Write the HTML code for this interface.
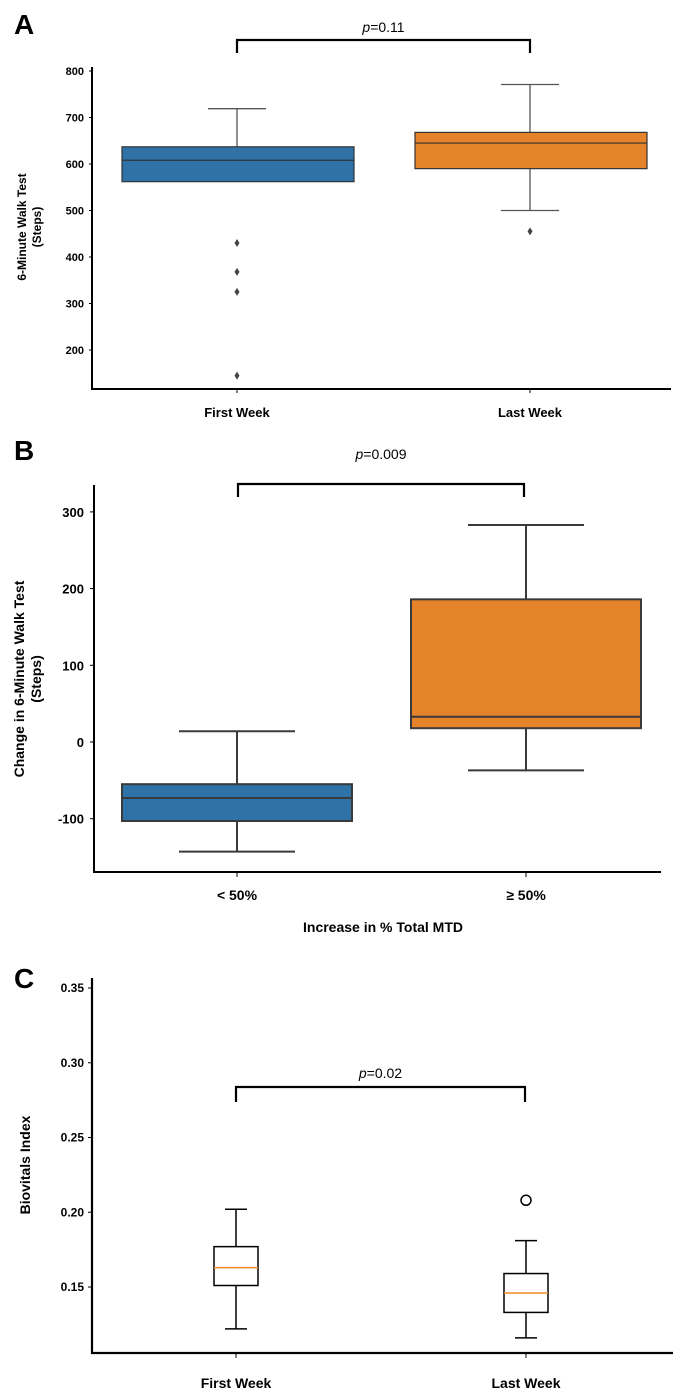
<!DOCTYPE html>
<html><head><meta charset="utf-8"><style>
body{margin:0;background:#fff;width:680px;height:1400px;overflow:hidden}
svg{display:block;font-family:"Liberation Sans",Arial,sans-serif}
</style></head><body>
<svg id="s" width="680" height="1400"></svg>
<script>
const catsA=["First Week","Last Week"];
const boxA=[[null,562,608,637,719],[500,590,645,668,771]];
const outA=[[430,368,325,145],[455]];
const ticksA=[200,300,400,500,600,700,800];
const catsB=["< 50%","≥ 50%"];
const boxB=[[-143,-103,-73,-55,14],[-37,18,33,186,283]];
const ticksB=[-100,0,100,200,300];
const catsC=["First Week","Last Week"];
const boxC=[[0.122,0.151,0.163,0.177,0.202],[0.116,0.133,0.146,0.159,0.181]];
const outC=[[],[0.208]];
const ticksC=[0.15,0.20,0.25,0.30,0.35];

const S=document.getElementById('s');const NS="http://www.w3.org/2000/svg";
function el(t,a,name,txt){const e=document.createElementNS(NS,t);for(const k in a)e.setAttribute(k,a[k]);


if(txt!==undefined)e.textContent=txt;S.appendChild(e);return e;}
function txt(x,y,s,name,o){o=o||{};const a={x:x,y:y,'font-size':o.fs||12,'font-weight':o.fw||'bold','text-anchor':o.anchor||'middle',fill:'#000'};if(o.tr)a.transform=o.tr;if(o.fst)a['font-style']=o.fst;return el('text',a,name,s);}
function bracket(x1,x2,y,y2,lab,ly,name){el('path',{d:`M${x1} ${y2}V${y}H${x2}V${y2}`,fill:'none',stroke:'#000','stroke-width':2.2},name+'-bracket');
const t=txt((x1+x2)/2,ly,'',name+'-label',{fw:'normal',fs:14});const p=document.createElementNS(NS,'tspan');p.setAttribute('font-style','italic');p.textContent='p';t.appendChild(p);t.appendChild(document.createTextNode(lab));}

// Panel A
txt(14,34,'A','panel-a-label',{fs:28,anchor:'start'});
const yA=v=>71+(800-v)*(350-71)/600;const xA=[237,530];const cA=['#2e72a8','#e5832a'];
el('path',{d:`M92 67V389H671`,fill:'none',stroke:'#000','stroke-width':2},'axes-a');
ticksA.forEach(t=>{el('line',{x1:89,x2:92,y1:yA(t),y2:yA(t),stroke:'#000'},'tick-a');txt(84,yA(t)+4,String(t),'ytick-a',{fs:11,anchor:'end'});});
catsA.forEach((c,i)=>{const b=boxA[i],x=xA[i],w=117;
el('line',{x1:x,x2:x,y1:yA(b[4]),y2:yA(b[3]),stroke:'#555','stroke-width':1.3},'whisker-a');
if(b[0]!==null){el('line',{x1:x,x2:x,y1:yA(b[1]),y2:yA(b[0]),stroke:'#555','stroke-width':1.3},'whisker-a');el('line',{x1:x-29,x2:x+29,y1:yA(b[0]),y2:yA(b[0]),stroke:'#555','stroke-width':1.3},'cap-a');}
el('line',{x1:x-29,x2:x+29,y1:yA(b[4]),y2:yA(b[4]),stroke:'#555','stroke-width':1.3},'cap-a');
el('rect',{x:x-w+2,y:yA(b[3]),width:2*w-2,height:yA(b[1])-yA(b[3]),fill:cA[i],stroke:'#333','stroke-width':1.2},'box-a-'+i);
el('line',{x1:x-w+2,x2:x+w,y1:yA(b[2]),y2:yA(b[2]),stroke:'#333','stroke-width':1.2},'median-a');
outA[i].forEach(v=>el('path',{d:`M${x} ${yA(v)-4}L${x+2.5} ${yA(v)}L${x} ${yA(v)+4}L${x-2.5} ${yA(v)}Z`,fill:'#444'},'outlier-a'));
el('line',{x1:x,x2:x,y1:389,y2:393,stroke:'#000'},'xtick-a');
txt(x,417,c,'xlabel-a',{fs:13});});
txt(0,0,'6-Minute Walk Test','ytitle-a',{fs:12,tr:'translate(26,227) rotate(-90)'});
txt(0,0,'(Steps)','ytitle-a2',{fs:12,tr:'translate(41,227) rotate(-90)'});
bracket(237,530,40,53,'=0.11',32,'sig-a');

// Panel B
txt(14,460,'B','panel-b-label',{fs:28,anchor:'start'});
const yB=v=>742-v*0.767;const xB=[237,526];const cB=['#2e72a8','#e5832a'];
el('path',{d:`M94 485V872H661`,fill:'none',stroke:'#000','stroke-width':2},'axes-b');
ticksB.forEach(t=>{el('line',{x1:90,x2:94,y1:yB(t),y2:yB(t),stroke:'#000'},'tick-b');txt(84,yB(t)+5,String(t),'ytick-b',{fs:13,anchor:'end'});});
catsB.forEach((c,i)=>{const b=boxB[i],x=xB[i],w=115;
el('line',{x1:x,x2:x,y1:yB(b[4]),y2:yB(b[0]),stroke:'#3a3a3a','stroke-width':2},'whisker-b');
el('line',{x1:x-58,x2:x+58,y1:yB(b[4]),y2:yB(b[4]),stroke:'#3a3a3a','stroke-width':2},'cap-b');
el('line',{x1:x-58,x2:x+58,y1:yB(b[0]),y2:yB(b[0]),stroke:'#3a3a3a','stroke-width':2},'cap-b');
el('rect',{x:x-w,y:yB(b[3]),width:2*w,height:yB(b[1])-yB(b[3]),fill:cB[i],stroke:'#3a3a3a','stroke-width':2},'box-b-'+i);
el('line',{x1:x-w,x2:x+w,y1:yB(b[2]),y2:yB(b[2]),stroke:'#3a3a3a','stroke-width':2},'median-b');
el('line',{x1:x,x2:x,y1:872,y2:877,stroke:'#000'},'xtick-b');
txt(x,900,c,'xlabel-b',{fs:14});});
txt(383,932,'Increase in % Total MTD','xtitle-b',{fs:14});
txt(0,0,'Change in 6-Minute Walk Test','ytitle-b',{fs:14,tr:'translate(24,679) rotate(-90)'});
txt(0,0,'(Steps)','ytitle-b2',{fs:14,tr:'translate(41,679) rotate(-90)'});
bracket(238,524,484,497,'=0.009',459,'sig-b');

// Panel C
txt(14,988,'C','panel-c-label',{fs:28,anchor:'start'});
const yC=v=>1287-(v-0.15)*(1287-988)/0.2;const xC=[236,526];
el('path',{d:`M92 978V1353H673`,fill:'none',stroke:'#000','stroke-width':2.2},'axes-c');
ticksC.forEach(t=>{el('line',{x1:88,x2:92,y1:yC(t),y2:yC(t),stroke:'#000'},'tick-c');txt(84,yC(t)+4,t.toFixed(2),'ytick-c',{fs:12,anchor:'end'});});
catsC.forEach((c,i)=>{const b=boxC[i],x=xC[i],w=22;
el('line',{x1:x,x2:x,y1:yC(b[4]),y2:yC(b[0]),stroke:'#000','stroke-width':1.5},'whisker-c');
el('line',{x1:x-11,x2:x+11,y1:yC(b[4]),y2:yC(b[4]),stroke:'#000','stroke-width':1.5},'cap-c');
el('line',{x1:x-11,x2:x+11,y1:yC(b[0]),y2:yC(b[0]),stroke:'#000','stroke-width':1.5},'cap-c');
el('rect',{x:x-w,y:yC(b[3]),width:2*w,height:yC(b[1])-yC(b[3]),fill:'#fff',stroke:'#000','stroke-width':1.5},'box-c-'+i);
el('line',{x1:x-w,x2:x+w,y1:yC(b[2]),y2:yC(b[2]),stroke:'#f08a24','stroke-width':1.5},'median-c');
outC[i].forEach(v=>el('circle',{cx:x,cy:yC(v),r:5,fill:'none',stroke:'#000','stroke-width':1.5},'outlier-c'));
el('line',{x1:x,x2:x,y1:1353,y2:1358,stroke:'#000'},'xtick-c');
txt(x,1388,c,'xlabel-c',{fs:14});});
txt(0,0,'Biovitals Index','ytitle-c',{fs:14,tr:'translate(30,1165) rotate(-90)'});
bracket(236,525,1087,1102,'=0.02',1078,'sig-c');
</script>
</body></html>
